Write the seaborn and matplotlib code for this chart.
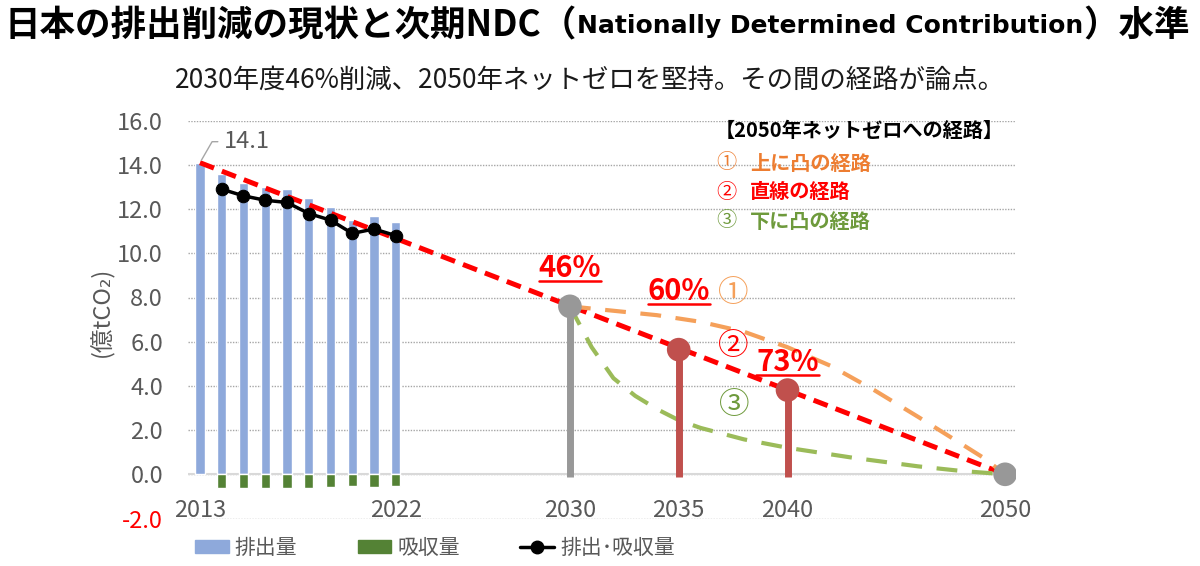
import numpy as np
import pandas as pd
import seaborn as sns
import matplotlib.pyplot as plt
from matplotlib.patches import Patch
from matplotlib.lines import Line2D

# Emissions and removals, 100 million tCO2
years = [2013, 2014, 2015, 2016, 2017, 2018, 2019, 2020, 2021, 2022]
emissions = [14.1, 13.6, 13.2, 13.0, 12.9, 12.5, 12.1, 11.5, 11.7, 11.4]
removal_years = [2014, 2015, 2016, 2017, 2018, 2019, 2020, 2021, 2022]
removals = [-0.63, -0.60, -0.60, -0.60, -0.60, -0.56, -0.55, -0.56, -0.51]
net = [12.9, 12.6, 12.4, 12.3, 11.8, 11.5, 10.9, 11.1, 10.8]

# Targets
target_years = [2030, 2035, 2040, 2050]
target_values = [7.6, 5.64, 3.81, 0.0]
target_labels = ["46%", "60%", "73%", ""]

# Pathways to 2050 net zero
straight_years = [2013, 2050]
straight_values = [14.1, 0.0]
upper_years = [2030, 2031, 2034, 2036, 2038, 2040, 2042, 2044, 2046, 2048, 2049, 2050]
upper_values = [7.6, 7.5, 7.2, 6.9, 6.45, 5.75, 4.9, 3.8, 2.6, 1.37, 0.75, 0.0]
lower_years = [2030, 2031, 2032, 2033, 2034, 2035, 2036, 2038, 2040, 2043, 2046, 2048, 2050]
lower_values = [7.6, 5.75, 4.35, 3.55, 2.95, 2.45, 2.1, 1.58, 1.2, 0.75, 0.36, 0.15, 0.0]

tick_years = [2013, 2022, 2030, 2035, 2040, 2050]
y_ticks = [-2, 0, 2, 4, 6, 8, 10, 12, 14, 16]

BLUE = "#8EA9DB"
GREEN = "#548235"
GREY = "#989898"
BRICK = "#C0504D"
ORANGE = "#F5A05A"
LGREEN = "#9BBB59"
TXT = "#595959"

sns.set_style("white")
plt.rcParams["font.family"] = ["Noto Sans CJK JP", "DejaVu Sans"]

W, H = 1200, 566
fig = plt.figure(figsize=(W / 100, H / 100), dpi=100)
ax = fig.add_axes([188 / W, 1 - 518.5 / H, (1016 - 188) / W, (518.5 - 120.7) / H])

# bars
sns.barplot(x=years, y=emissions, native_scale=True, width=0.42, color=BLUE,
            saturation=1, errorbar=None, ax=ax, zorder=2)
sns.barplot(x=removal_years, y=removals, native_scale=True, width=0.42, color=GREEN,
            saturation=1, errorbar=None, ax=ax, zorder=2)

# straight pathway
sns.lineplot(x=straight_years, y=straight_values, color="#FF0000", lw=3.6, ax=ax, zorder=3)
ax.lines[-1].set_dashes((3.0, 1.7))

# upper / lower convex pathways
sns.lineplot(x=upper_years, y=upper_values, color=ORANGE, lw=3.0, ax=ax, zorder=3)
ax.lines[-1].set_dashes((5, 3.5))
sns.lineplot(x=lower_years, y=lower_values, color=LGREEN, lw=3.0, ax=ax, zorder=3)
ax.lines[-1].set_dashes((5, 3.5))

# net emissions
sns.lineplot(x=years[1:], y=net, color="black", lw=2.5, marker="o", markersize=9,
             markeredgecolor="black", ax=ax, zorder=4)

# target stems + markers
stem_colors = [GREY, BRICK, BRICK]
ax.vlines(target_years[:3], -0.1, target_values[:3], colors=stem_colors, lw=5, zorder=4)
sns.scatterplot(x=target_years, y=target_values, hue=target_years,
                palette=[GREY, BRICK, BRICK, GREY], s=290, linewidth=0,
                legend=False, ax=ax, zorder=5)

# axes styling
ax.set_xlim(2012.45, 2050.5)
ax.set_ylim(-2, 16)
ax.set_xlabel("")
ax.set_ylabel("")
for sp in ax.spines.values():
    sp.set_visible(False)
ax.set_yticks(y_ticks)
ax.set_yticklabels([f"{v:.1f}" for v in y_ticks])
ax.set_xticks(tick_years)
ax.set_xticklabels([str(y) for y in tick_years])
ax.tick_params(axis="y", length=0, pad=18, labelsize=17, labelcolor=TXT)
ax.tick_params(axis="x", length=0, pad=-14, labelsize=17, labelcolor=TXT)
ax.get_yticklabels()[0].set_color("#FF0000")
ax.grid(True, axis="y", color="#A6A6A6", lw=1, linestyle=(0, (1, 1)), zorder=0)
ax.grid(False, axis="x")
ax.axhline(0, color="#D9D9D9", lw=1.5, zorder=1)
ax.set_axisbelow(True)

ax.text(-0.104, 0.52, "(億tCO₂)", transform=ax.transAxes, rotation=90,
        ha="center", va="center", fontsize=17, color=TXT)

# 14.1 callout
ax.annotate("14.1", xy=(years[0], emissions[0]), xytext=(2014.1, 15.05),
            fontsize=17, color=TXT, ha="left", va="center",
            arrowprops=dict(arrowstyle="-", color="#A6A6A6", lw=1,
                            connectionstyle="angle,angleA=0,angleB=60,rad=0",
                            shrinkA=2, shrinkB=2))

# reduction labels (underlined)
pct_pos = [(2030, 9.35), (2035, 8.3), (2040, 5.1)]
pct_texts = []
for (x, y), s in zip(pct_pos, target_labels[:3]):
    pct_texts.append(ax.text(x, y, s, ha="center", va="center", fontsize=21,
                             fontweight="bold", color="#FF0000", zorder=6))

# circled numbers
ax.text(2037.5, 8.2, "①", ha="center", va="center", fontsize=22, color=ORANGE, zorder=6)
ax.text(2037.5, 5.8, "②", ha="center", va="center", fontsize=22, color="#FF0000", zorder=6)
ax.text(2037.55, 3.1, "③", ha="center", va="center", fontsize=22, color="#6E9A3C", zorder=6)

# pathway box
fig.text(715 / W, 1 - 130 / H, "【2050年ネットゼロへの経路】", fontsize=14.5,
         fontweight="bold", color="black", ha="left", va="center")
box_rows = [("①", "上に凸の経路", "#ED7D31", 163), ("②", "直線の経路", "#FF0000", 192),
            ("③", "下に凸の経路", "#6E9A3C", 221)]
for num, s, c, yy in box_rows:
    fig.text(716 / W, 1 - yy / H, num, fontsize=14.5, color=c, ha="left", va="center")
    fig.text(750 / W, 1 - yy / H, s, fontsize=14.5, fontweight="bold", color=c,
             ha="left", va="center")

# title, built from pieces
fig.canvas.draw()
rend = fig.canvas.get_renderer()
x = 5
for s, size, weight, fam in [("日本の排出削減の現状と次期NDC（", 25.6, "bold", None),
                             ("Nationally Determined Contribution", 18, "bold", "DejaVu Sans"),
                             ("）水準", 25.6, "bold", None)]:
    kw = {"family": fam} if fam else {}
    t = fig.text(x / W, 1 - 26 / H, s, fontsize=size, fontweight=weight,
                 ha="left", va="center", color="black", **kw)
    x = t.get_window_extent(renderer=rend).x1

fig.text(590 / W, 1 - 80 / H, "2030年度46%削減、2050年ネットゼロを堅持。その間の経路が論点。",
         fontsize=19, color="#1a1a1a", ha="center", va="center")

# underline percent labels
for t in pct_texts:
    bb = t.get_window_extent(renderer=rend)
    fig.add_artist(Line2D([bb.x0 / W, bb.x1 / W], [(bb.y0 + 2) / H] * 2,
                          color="#FF0000", lw=1.8, transform=fig.transFigure))

# bottom legend
handles = [Patch(color=BLUE), Patch(color=GREEN),
           Line2D([], [], color="black", lw=2.5, marker="o", markersize=9)]
fig.legend(handles, ["排出量", "吸収量", "排出･吸収量"], loc="center",
           bbox_to_anchor=(435 / W, 1 - 548 / H), ncol=3, frameon=False,
           fontsize=15, labelcolor=TXT, handlelength=1.6, handleheight=0.6,
           handletextpad=0.3, columnspacing=2.9)

fig.savefig("out.png", dpi=100)
